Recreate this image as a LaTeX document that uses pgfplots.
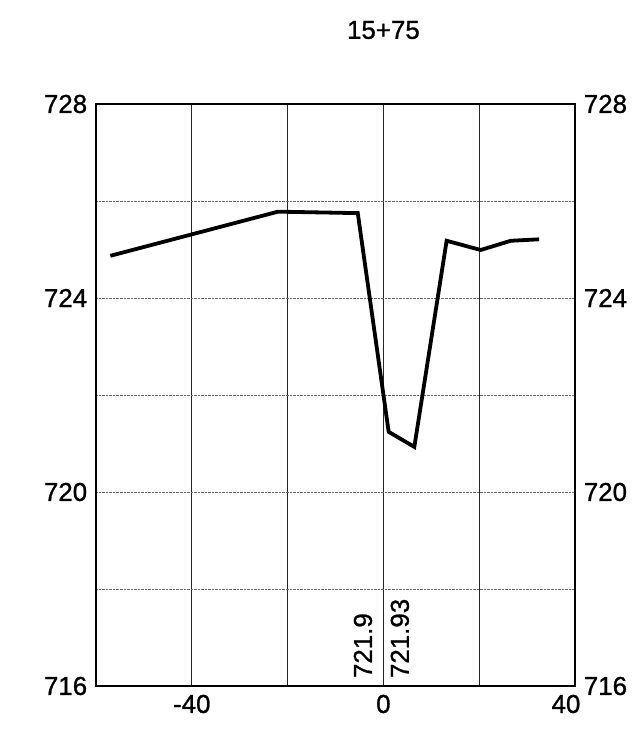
\documentclass[border=0pt]{standalone}
\usepackage{pgfplots}
\pgfplotsset{compat=1.18}
\usepackage{fontspec}
\setmainfont{Liberation Sans}[FakeBold=1]
\begin{document}
\fontsize{26}{30}\selectfont
\begin{tikzpicture}
\pgfplotsset{
  base/.style={
    at={(0,0)}, anchor=south west,
    scale only axis, width=479bp, height=582bp,
    xmin=-60, xmax=40, ymin=716, ymax=728,
    major tick length=0pt,
    axis line style={black, line width=1.2bp},
    tick label style={font=\fontsize{26}{30}\selectfont},
    /pgf/number format/assume math mode=true,
  }
}
\begin{axis}[base,
  xtick={-60,-40,-20,0,20,40},
  xticklabels={,-40,,0,,},
  extra x ticks={40},
  extra x tick labels={40},
  extra x tick style={grid=none, xticklabel style={xshift=-9bp}},
  ytick={716,718,720,722,724,726,728},
  yticklabels={716,,720,,724,,728},
  xmajorgrids, ymajorgrids,
  major x grid style={black!85, line width=1bp},
  major y grid style={black!60, densely dotted, line width=0.9bp},
  title={15+75},
  title style={at={(axis description cs:0.6,1)}, anchor=center, yshift=68bp, font=\fontsize{26}{30}\selectfont},
]
\addplot[black, line width=3.8bp, line join=miter] coordinates {
  (-57.0,724.87) (-22.0,725.78) (-5.35,725.75) (1.1,721.24) (6.46,720.93)
  (13.2,725.18) (20.3,724.99) (26.6,725.18) (32.5,725.21)
};
\node[rotate=90, anchor=south west, inner sep=0pt] at (axis cs:-2.3,716.16) {721.9};
\node[rotate=90, anchor=south west, inner sep=0pt] at (axis cs:5.4,716.16) {721.93};
\end{axis}
\begin{axis}[base,
  xtick=\empty,
  ytick={716,720,724,728},
  yticklabels={716,720,724,728},
  yticklabel pos=right,
]
\end{axis}
\path[use as bounding box] (-96bp,-52bp) rectangle (542bp,686bp);
\end{tikzpicture}
\end{document}
